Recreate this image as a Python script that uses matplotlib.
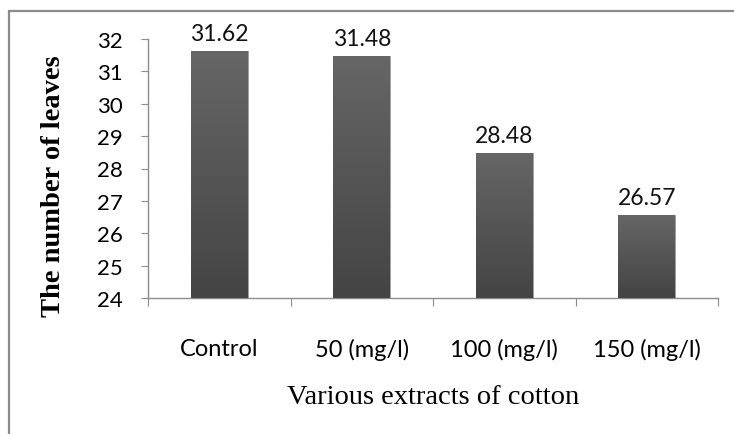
import numpy as np
import matplotlib
matplotlib.use('Agg')
import matplotlib.pyplot as plt
from matplotlib.patches import Rectangle
from matplotlib.colors import LinearSegmentedColormap

categories = ['Control', '50 (mg/l)', '100 (mg/l)', '150 (mg/l)']
leaves = [31.62, 31.48, 28.48, 26.57]
y_ticks = [24, 25, 26, 27, 28, 29, 30, 31, 32]

sans = ['Lato', 'DejaVu Sans']
serif = 'Liberation Serif'
grey = '#8c8c8c'

fig = plt.figure(figsize=(7.34, 4.35), dpi=100)
# outer chart frame (cut off at right and bottom like the source)
fig.patches.append(Rectangle((9 / 734, -0.05), 1.0, 1 - 12 / 435 + 0.05,
                             transform=fig.transFigure, fill=False,
                             edgecolor='#8a8a8a', linewidth=1.6))

ax = fig.add_axes([148 / 734, 1 - 299 / 435, (718 - 148) / 734, (299 - 40) / 435])
x = np.arange(len(categories))
bars = ax.bar(x, [v - 24 for v in leaves], bottom=24, width=0.4,
              color='#555555', edgecolor='#a0a0a0', linewidth=0.6, zorder=2)

# vertical gradient on each bar
cmap = LinearSegmentedColormap.from_list('bar', ['#444444', '#666666'])
grad = np.linspace(0, 1, 256).reshape(-1, 1)
for b in bars:
    x0, y0 = b.get_x(), b.get_y()
    im = ax.imshow(grad, cmap=cmap, origin='lower', aspect='auto',
                   extent=(x0, x0 + b.get_width(), y0, y0 + b.get_height()), zorder=3)
    im.set_clip_path(b)

for xi, v in zip(x, leaves):
    ax.annotate(f'{v:.2f}', (xi, v), xytext=(0, 8), textcoords='offset points',
                ha='center', va='baseline', fontsize=16.5, family=sans, color='#111111')

ax.set_xlim(-0.5, len(categories) - 0.5)
ax.set_ylim(24, 32)
ax.set_yticks(y_ticks)
ax.set_yticklabels([str(t) for t in y_ticks], family=sans, fontsize=16)
ax.set_xticks(np.arange(-0.5, len(categories)))
ax.set_xticklabels([])
ax.set_xticks(x, minor=True)
ax.set_xticklabels(categories, minor=True, family=sans, fontsize=17)
ax.tick_params(axis='x', which='major', length=6, color=grey, direction='out')
ax.tick_params(axis='x', which='minor', length=0, pad=29)
ax.tick_params(axis='y', length=5, color=grey, pad=13)

for s in ['top', 'right']:
    ax.spines[s].set_visible(False)
for s in ['left', 'bottom']:
    ax.spines[s].set_color(grey)
    ax.spines[s].set_linewidth(1.0)

ax.set_xlabel('Various extracts of cotton', family=serif, fontsize=20.5, va='center')
ax.xaxis.set_label_coords(0.5, (299 - 397) / 259)
ax.set_ylabel('The number of leaves', family=serif, fontsize=20.5,
              fontweight='bold', va='center')
ax.yaxis.set_label_coords((54 - 148) / 570, (299 - 186) / 259)

fig.savefig('out.png', dpi=100)
